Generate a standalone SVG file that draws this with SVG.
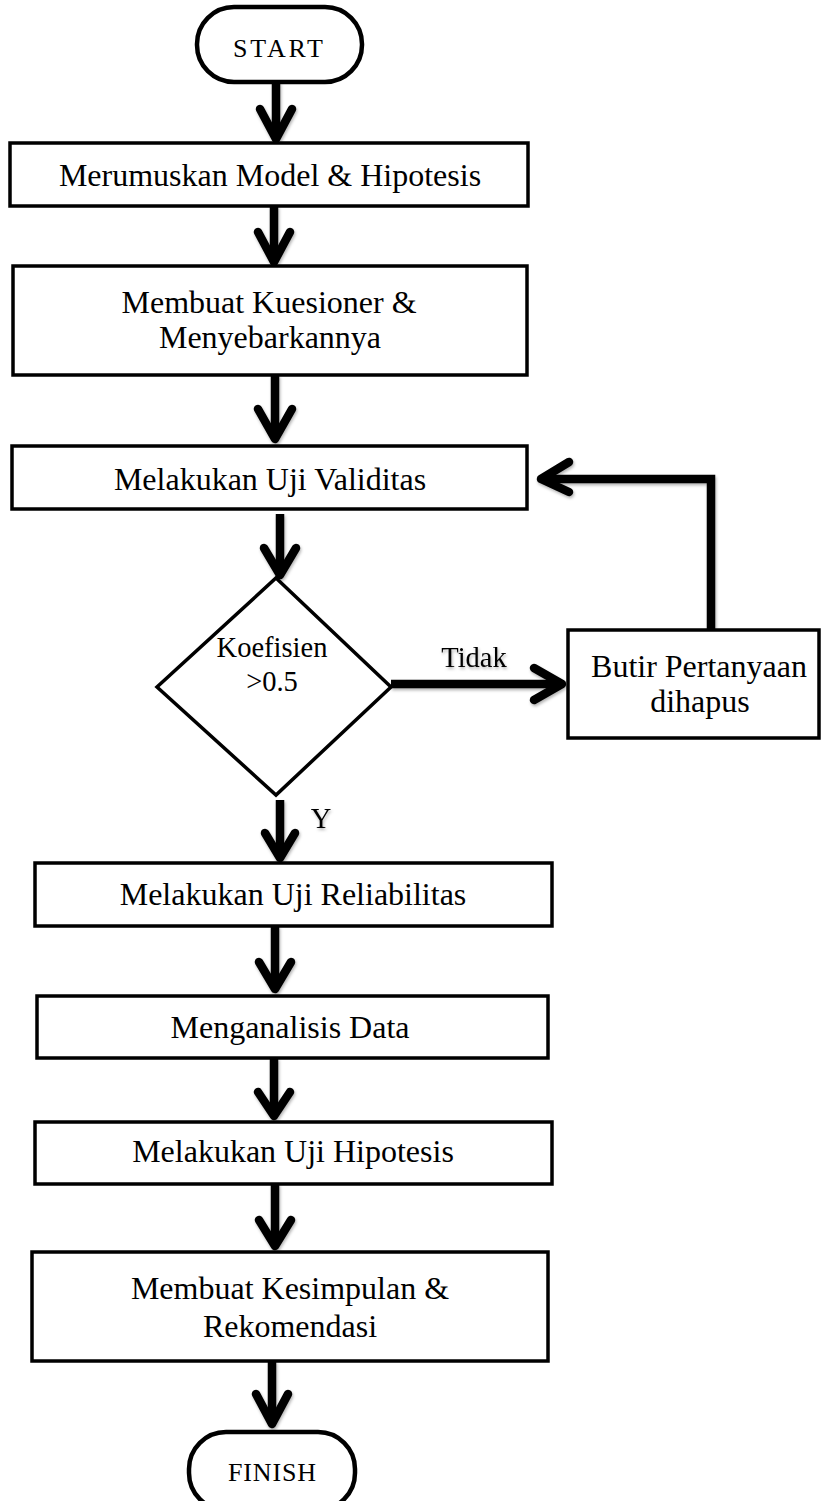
<svg xmlns="http://www.w3.org/2000/svg" width="821" height="1501" viewBox="0 0 821 1501">
<style>
.box{fill:#fff;stroke:#000;stroke-width:3.5}
.term{fill:#fff;stroke:#000;stroke-width:4.5}
.dia{fill:#fff;stroke:#000;stroke-width:3.5}
.t{font-family:"Liberation Serif","Times New Roman",serif;font-size:32px;fill:#000;text-anchor:middle}
.sm{font-size:26px}
.md{font-size:28.5px}
.shaft{fill:none;stroke:#000;stroke-width:8.5;stroke-linecap:butt;stroke-linejoin:miter}
.head{fill:none;stroke:#000;stroke-width:8.5;stroke-linecap:round;stroke-linejoin:round}
</style>
<defs>
<filter id="sh" x="-20%" y="-20%" width="140%" height="140%">
<feDropShadow dx="1" dy="2" stdDeviation="1.8" flood-color="#000" flood-opacity="0.3"/>
</filter>
</defs>
<rect width="821" height="1501" fill="#fff"/>

<g id="connectors" filter="url(#sh)">
<path class="shaft" d="M276 82V138"/><path class="head" d="M260 109L276 139L292 109"/>
<path class="shaft" d="M274 206V261"/><path class="head" d="M258 232L274 262L290 232"/>
<path class="shaft" d="M275 375V438"/><path class="head" d="M258 409L275 439L292 409"/>
<path class="shaft" d="M280 514V574"/><path class="head" d="M264 548L280 575L296 548"/>
<path class="shaft" d="M280 800V857"/><path class="head" d="M265 833L280 858L295 833"/>
<path class="shaft" d="M275 926V988"/><path class="head" d="M259 962L275 989L291 962"/>
<path class="shaft" d="M274 1058V1115"/><path class="head" d="M258 1092L274 1116L290 1092"/>
<path class="shaft" d="M275 1184V1245"/><path class="head" d="M259 1220L275 1246L291 1220"/>
<path class="shaft" d="M272 1361V1423"/><path class="head" d="M256 1394L272 1424L288 1394"/>
<path class="shaft" d="M391 684H561"/><path class="head" d="M534 668L562 684L534 700"/>
<path class="shaft" d="M711 630V479H542"/><path class="head" d="M569 462L541 479L569 492"/>
<text class="t md" x="474" y="667">Tidak</text>
<text class="t md" x="321" y="828">Y</text>
</g>

<g id="start">
<rect class="term" x="197" y="7" width="165" height="75" rx="37" ry="37"/>
<text class="t sm" x="278" y="57" textLength="90" lengthAdjust="spacing">START</text>
</g>

<g id="merumuskan">
<rect class="box" x="10" y="143" width="518" height="63"/>
<text class="t" x="270" y="186">Merumuskan Model &amp; Hipotesis</text>
</g>

<g id="kuesioner">
<rect class="box" x="13" y="266" width="514" height="109"/>
<text class="t" x="269" y="313">Membuat Kuesioner &amp;</text>
<text class="t" x="270" y="348">Menyebarkannya</text>
</g>

<g id="validitas">
<rect class="box" x="12" y="446" width="515" height="63"/>
<text class="t" x="270" y="490">Melakukan Uji Validitas</text>
</g>

<g id="keputusan">
<polygon class="dia" points="276,578 391,687 276,795 157,687"/>
<text class="t md" x="272" y="657">Koefisien</text>
<text class="t md" x="272" y="691">&gt;0.5</text>
</g>

<g id="butir">
<rect class="box" x="568" y="630" width="251" height="108"/>
<text class="t" x="699" y="677">Butir Pertanyaan</text>
<text class="t" x="700" y="712">dihapus</text>
</g>

<g id="reliabilitas">
<rect class="box" x="35" y="863" width="517" height="63"/>
<text class="t" x="293" y="905">Melakukan Uji Reliabilitas</text>
</g>

<g id="analisis">
<rect class="box" x="37" y="996" width="511" height="62"/>
<text class="t" x="290" y="1038">Menganalisis Data</text>
</g>

<g id="hipotesis">
<rect class="box" x="35" y="1122" width="517" height="62"/>
<text class="t" x="293" y="1162">Melakukan Uji Hipotesis</text>
</g>

<g id="kesimpulan">
<rect class="box" x="32" y="1252" width="516" height="109"/>
<text class="t" x="290" y="1299">Membuat Kesimpulan &amp;</text>
<text class="t" x="290" y="1337">Rekomendasi</text>
</g>

<g id="finish">
<rect class="term" x="189" y="1432" width="166" height="78" rx="37" ry="37"/>
<text class="t sm" x="272" y="1481" textLength="88" lengthAdjust="spacing">FINISH</text>
</g>
</svg>
